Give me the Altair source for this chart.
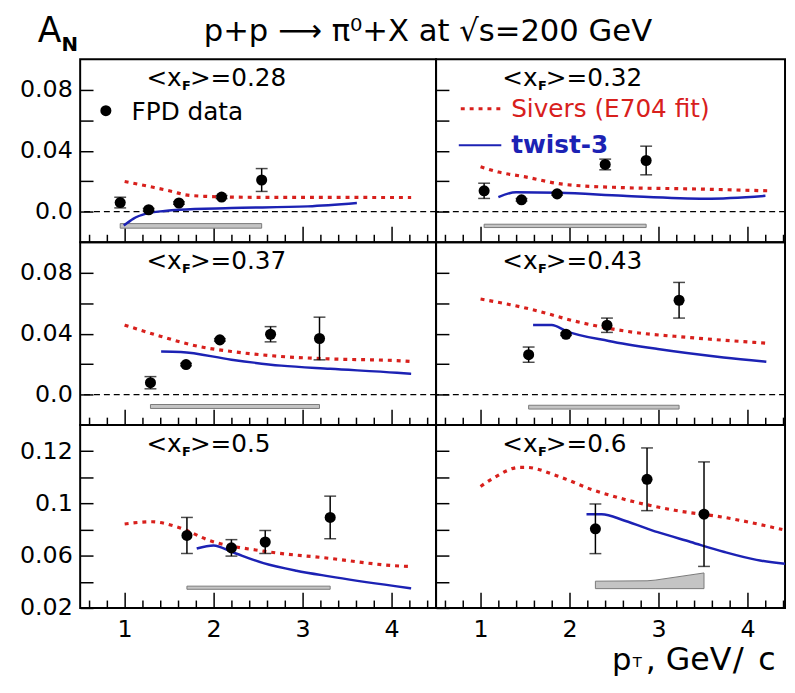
import altair as alt
import pandas as pd

FONT = "DejaVu Sans"
RED = "#d8201c"
BLUE = "#1c22b4"
BAND_FILL = "#c4c4c4"

# ---------------- data ----------------
XF_LABELS = ["0.28", "0.32", "0.37", "0.43", "0.5", "0.6"]

# FPD data points (pT, A_N, stat. error)
PT = [
    [0.95, 1.27, 1.61, 2.09, 2.54],
    [1.04, 1.46, 1.86, 2.40, 2.86],
    [1.29, 1.69, 2.07, 2.64, 3.19],
    [1.54, 1.96, 2.42, 3.23],
    [1.70, 2.20, 2.58, 3.31],
    [2.29, 2.87, 3.51],
]
AN = [
    [0.0060, 0.0013, 0.0057, 0.0096, 0.0208],
    [0.0137, 0.0078, 0.0117, 0.0310, 0.0336],
    [0.0078, 0.0197, 0.0359, 0.0396, 0.0368],
    [0.0262, 0.0396, 0.0455, 0.0619],
    [0.0755, 0.0660, 0.0705, 0.0893],
    [0.0806, 0.1185, 0.0918],
]
ERR = [
    [0.0035, 0.0008, 0.0008, 0.0010, 0.0075],
    [0.0050, 0.0008, 0.0008, 0.0035, 0.0094],
    [0.0040, 0.0008, 0.0008, 0.0050, 0.0140],
    [0.0050, 0.0008, 0.0047, 0.0117],
    [0.0138, 0.0063, 0.0088, 0.0163],
    [0.0190, 0.0240, 0.0400],
]

# Sivers (E704 fit) curves
SIV_X = [
    [1.0, 1.28, 1.54, 1.68, 1.9, 2.2, 2.6, 3.0, 3.5, 4.0, 4.22],
    [1.0, 1.2, 1.49, 1.93, 2.6, 3.34, 4.24],
    [1.0, 1.39, 1.83, 2.2, 2.76, 3.31, 4.06, 4.22],
    [1.0, 1.58, 2.06, 2.62, 3.36, 4.2],
    [1.0, 1.31, 1.6, 1.97, 2.56, 3.3, 4.04, 4.22],
    [1.0, 1.14, 1.44, 1.51, 1.88, 2.25, 2.62, 3.18, 3.74, 4.39],
]
SIV_Y = [
    [0.0198, 0.0165, 0.0132, 0.0111, 0.0101, 0.0096, 0.0094, 0.0094, 0.0094, 0.0093, 0.0093],
    [0.0295, 0.0260, 0.0230, 0.0180, 0.0158, 0.0150, 0.0137],
    [0.0456, 0.0385, 0.0316, 0.0283, 0.0250, 0.0234, 0.0223, 0.0217],
    [0.0627, 0.0558, 0.0482, 0.0417, 0.0374, 0.0338],
    [0.0843, 0.0860, 0.0818, 0.0713, 0.0635, 0.0580, 0.0523, 0.0517],
    [0.1130, 0.1193, 0.1276, 0.1276, 0.1206, 0.1106, 0.1031, 0.0948, 0.0893, 0.0800],
]

# twist-3 curves
TW_X = [
    [0.99, 1.1, 1.24, 1.45, 1.61, 2.2, 3.06, 3.61],
    [1.2, 1.40, 1.88, 2.6, 3.53, 4.2],
    [1.41, 1.63, 2.2, 2.76, 3.31, 4.06, 4.22],
    [1.59, 1.80, 1.96, 2.44, 2.99, 3.73, 4.21],
    [1.81, 2.0, 2.2, 2.56, 2.93, 3.3, 4.04, 4.22],
    [2.19, 2.36, 2.62, 2.99, 3.36, 3.73, 4.1, 4.42],
]
TW_Y = [
    [-0.0091, -0.0045, -0.0013, 0.0005, 0.0013, 0.0024, 0.0035, 0.0057],
    [0.0096, 0.0128, 0.0124, 0.0104, 0.0085, 0.0104],
    [0.0283, 0.0280, 0.0229, 0.0190, 0.0169, 0.0143, 0.0136],
    [0.0456, 0.0456, 0.0417, 0.0352, 0.0299, 0.0244, 0.0216],
    [0.0655, 0.0678, 0.0630, 0.0543, 0.0485, 0.0442, 0.0367, 0.0350],
    [0.0918, 0.0918, 0.0868, 0.0780, 0.0705, 0.0630, 0.0568, 0.0538],
]

# systematic-error bands
BAND_X = [
    [0.95, 2.54],
    [1.04, 2.86],
    [1.29, 3.19],
    [1.54, 3.23],
    [1.70, 3.31],
    [2.29, 2.87, 2.96, 3.51],
]
BAND_LO = [
    [-0.0108, -0.0108],
    [-0.0104, -0.0104],
    [-0.0091, -0.0091],
    [-0.0095, -0.0095],
    [0.0343, 0.0343],
    [0.0348, 0.0348, 0.0348, 0.0348],
]
BAND_HI = [
    [-0.0078, -0.0078],
    [-0.0082, -0.0082],
    [-0.0065, -0.0065],
    [-0.0070, -0.0070],
    [0.0367, 0.0367],
    [0.0405, 0.0408, 0.0413, 0.0468],
]

# axes
X_DOMAIN = [[0.5, 4.5], [0.5, 4.42]]
WIDTHS = [360, 353]
HEIGHT = 185
Y_DOMAIN = [[-0.02, 0.10], [0.02, 0.16]]
Y_TICKS = [[0.0, 0.02, 0.04, 0.06, 0.08], [0.02, 0.04, 0.06, 0.08, 0.10, 0.12, 0.14]]
Y_LABEL_EXPR = [
    "abs(datum.value) < 0.000001 ? '0.0' : abs(datum.value-0.04) < 0.000001 ? '0.04' : "
    "abs(datum.value-0.08) < 0.000001 ? '0.08' : ''",
    "abs(datum.value-0.02) < 0.000001 ? '0.02' : abs(datum.value-0.06) < 0.000001 ? '0.06' : "
    "abs(datum.value-0.1) < 0.000001 ? '0.1' : abs(datum.value-0.14) < 0.000001 ? '0.12' : ''",
]
X_MAJOR = [1, 2, 3, 4]
X_MINOR = [0.6, 0.8, 1.2, 1.4, 1.6, 1.8, 2.2, 2.4, 2.6, 2.8, 3.2, 3.4, 3.6, 3.8, 4.2, 4.4]


def text(s, x, y, size, color="black", weight="normal", align="left"):
    return alt.Chart(pd.DataFrame({"t": [s]})).mark_text(
        font=FONT, fontSize=size, color=color, fontWeight=weight,
        align=align, baseline="alphabetic"
    ).encode(x=alt.value(x), y=alt.value(y), text="t:N")


def panel(i):
    col, row = i % 2, i // 2
    yr = 0 if row < 2 else 1
    xs = alt.Scale(domain=X_DOMAIN[col], nice=False, zero=False)
    ys = alt.Scale(domain=Y_DOMAIN[yr], nice=False, zero=False)
    show_x = row == 2
    show_y = col == 0

    major_x = alt.Axis(values=X_MAJOR, orient="bottom", tickSize=16, offset=-16,
                       domain=False, grid=False, labels=show_x, labelFont=FONT,
                       labelFontSize=24, labelPadding=10, labelColor="black",
                       labelFlush=False, tickColor="black", tickWidth=1.5, title=None)
    minor_x = alt.Axis(values=X_MINOR, orient="bottom", tickSize=8, offset=-8,
                       domain=False, grid=False, labels=False, tickColor="black",
                       tickWidth=1.5, title=None)
    y_axis = alt.Axis(values=Y_TICKS[yr], orient="left", tickSize=13, offset=-13,
                      domain=False, grid=False, labels=show_y,
                      labelExpr=Y_LABEL_EXPR[yr], labelFont=FONT, labelFontSize=24,
                      labelPadding=8, labelColor="black", labelFlush=False,
                      tickColor="black", tickWidth=1.5, title=None)

    pts = pd.DataFrame({"x": PT[i], "y": AN[i]})
    pts["lo"] = pts["y"] - pd.Series(ERR[i])
    pts["hi"] = pts["y"] + pd.Series(ERR[i])
    band = pd.DataFrame({"x": BAND_X[i], "lo": BAND_LO[i], "hi": BAND_HI[i]})
    siv = pd.DataFrame({"x": SIV_X[i], "y": SIV_Y[i]})
    tw = pd.DataFrame({"x": TW_X[i], "y": TW_Y[i]})

    layers = []
    # axis carrier: major x ticks/labels and y ticks/labels
    layers.append(
        alt.Chart(pts).mark_point(opacity=0, size=1).encode(
            x=alt.X("x:Q", scale=xs, axis=major_x),
            y=alt.Y("y:Q", scale=ys, axis=y_axis),
        )
    )
    # systematic band, also carries the minor x ticks
    layers.append(
        alt.Chart(band).mark_area(color=BAND_FILL, stroke="#7a7a7a", strokeWidth=1,
                                  opacity=1).encode(
            x=alt.X("x:Q", scale=xs, axis=minor_x),
            y=alt.Y("hi:Q", scale=ys, axis=None),
            y2="lo:Q",
        )
    )
    if row < 2:
        layers.append(
            alt.Chart(pd.DataFrame({"y": [0.0]})).mark_rule(
                color="black", strokeDash=[6, 4], strokeWidth=1.2
            ).encode(y=alt.Y("y:Q", scale=ys, axis=None))
        )
    layers.append(
        alt.Chart(siv).mark_line(color=RED, strokeDash=[4, 5], strokeWidth=3.2,
                                 interpolate="monotone", clip=True).encode(
            x=alt.X("x:Q", scale=xs, axis=None),
            y=alt.Y("y:Q", scale=ys, axis=None),
        )
    )
    layers.append(
        alt.Chart(tw).mark_line(color=BLUE, strokeWidth=2.5, interpolate="monotone",
                                clip=True).encode(
            x=alt.X("x:Q", scale=xs, axis=None),
            y=alt.Y("y:Q", scale=ys, axis=None),
        )
    )
    layers.append(
        alt.Chart(pts).mark_rule(color="black", strokeWidth=1.5).encode(
            x=alt.X("x:Q", scale=xs, axis=None),
            y=alt.Y("lo:Q", scale=ys, axis=None),
            y2="hi:Q",
        )
    )
    for cap in ("lo", "hi"):
        layers.append(
            alt.Chart(pts).mark_tick(color="black", thickness=1.5, size=12,
                                     orient="horizontal").encode(
                x=alt.X("x:Q", scale=xs, axis=None),
                y=alt.Y(cap + ":Q", scale=ys, axis=None),
            )
        )
    layers.append(
        alt.Chart(pts).mark_circle(size=125, color="black", opacity=1).encode(
            x=alt.X("x:Q", scale=xs, axis=None),
            y=alt.Y("y:Q", scale=ys, axis=None),
        )
    )

    # panel label <x_F>=...
    layers.append(text("<x", 67, 27, 25))
    layers.append(text("F", 103, 31, 13, weight="bold"))
    layers.append(text(">=" + XF_LABELS[i], 111, 27, 25))

    if i == 0:
        layers.append(
            alt.Chart(pd.DataFrame({"a": [0]})).mark_circle(size=125, color="black",
                                                            opacity=1).encode(
                x=alt.value(26), y=alt.value(52))
        )
        layers.append(text("FPD data", 52, 61, 25))
        layers.append(text("A", -43, -17, 35))
        layers.append(text("N", -19, -8, 20, weight="bold"))
        layers.append(text("p+p \u27f6 \u03c0\u2070+X at \u221as=200 GeV", 125, -19, 31))
    if i == 1:
        layers.append(
            alt.Chart(pd.DataFrame({"a": [0]})).mark_rule(
                color=RED, strokeDash=[4, 5], strokeWidth=3.2).encode(
                x=alt.value(25), x2=alt.value(65), y=alt.value(50))
        )
        layers.append(text("Sivers (E704 fit)", 76, 58, 25, color=RED))
        layers.append(
            alt.Chart(pd.DataFrame({"a": [0]})).mark_rule(
                color=BLUE, strokeWidth=2).encode(
                x=alt.value(23), x2=alt.value(66), y=alt.value(87))
        )
        layers.append(text("twist-3", 76, 95, 25, color=BLUE, weight="bold"))
    if i == 5:
        layers.append(text("p", 178, HEIGHT + 63, 31))
        layers.append(text("T", 199, HEIGHT + 60, 15))
        layers.append(text(", GeV", 212, HEIGHT + 63, 32))
        layers.append(text("/", 300, HEIGHT + 63, 33))
        layers.append(text("c", 326, HEIGHT + 63, 32))

    return alt.layer(*layers).properties(width=WIDTHS[col], height=HEIGHT).resolve_axis(
        x="independent", y="independent"
    )


panels = [panel(i) for i in range(6)]

chart = alt.concat(*panels, columns=2, spacing=0, bounds="flush", align="each").properties(
    padding={"left": 10, "top": 2, "right": 0, "bottom": 0},
    autosize=alt.AutoSizeParams(type="pad"),
).configure_view(stroke="black", strokeWidth=2)

chart.save("out.html", embed_options={"renderer": "svg", "actions": False})
